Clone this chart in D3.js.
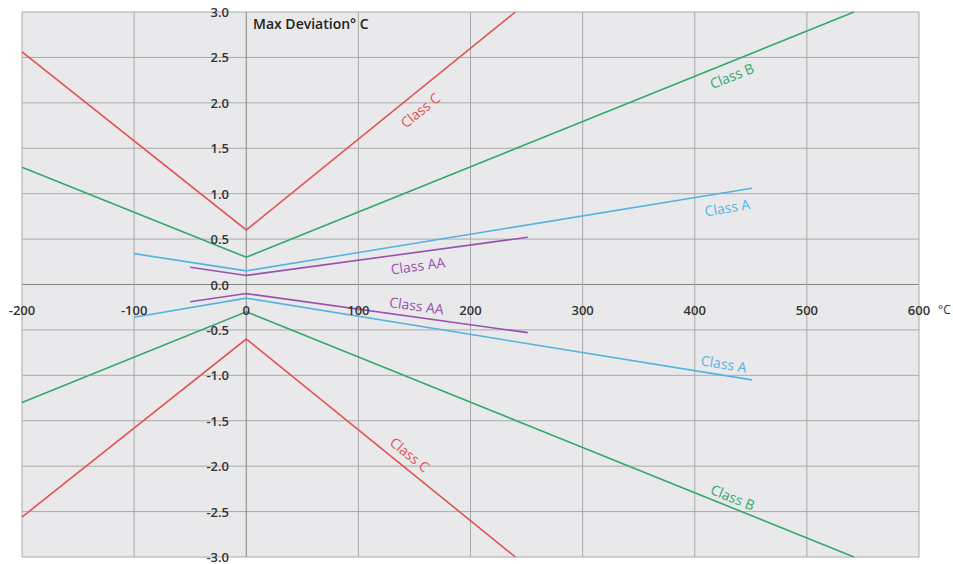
<!DOCTYPE html>
<html>
<head>
<meta charset="utf-8">
<script src="https://cdn.jsdelivr.net/npm/d3@7"></script>
<style>
  html, body { margin: 0; padding: 0; background: #fff; }
  svg { display: block; font-family: "Open Sans", "Noto Sans", sans-serif; }
</style>
</head>
<body>
<div id="chart"></div>
<script>
(function () {
  'use strict';

  // Axis ticks
  var xTicks = [-200, -100, 0, 100, 200, 300, 400, 500, 600];
  var yTicks = [-3, -2.5, -2, -1.5, -1, -0.5, 0, 0.5, 1, 1.5, 2, 2.5, 3];

  // Tolerance curves [temperature °C, deviation °C]
  var classCUpper  = [[-200, 2.56], [0, 0.6], [240, 3.0]];
  var classCLower  = [[-200, -2.56], [0, -0.6], [240, -3.0]];
  var classBUpper  = [[-200, 1.29], [0, 0.3], [542, 3.0]];
  var classBLower  = [[-200, -1.30], [0, -0.3], [542, -3.0]];
  var classAUpper  = [[-100, 0.34], [0, 0.15], [451, 1.06]];
  var classALower  = [[-100, -0.36], [0, -0.15], [451, -1.05]];
  var classAAUpper = [[-50, 0.19], [0, 0.10], [251, 0.52]];
  var classAALower = [[-50, -0.19], [0, -0.10], [251, -0.53]];

  // Label anchors in data units
  var labelNames = ['Class C', 'Class C', 'Class B', 'Class B', 'Class A', 'Class A', 'Class AA', 'Class AA'];
  var labelX = [155, 146, 433, 434, 429, 426, 153, 152];
  var labelY = [1.92, -1.87, 2.30, -2.34, 0.85, -0.87, 0.21, -0.23];

  var colors = { C: '#e05352', B: '#33a86c', A: '#55b3df', AA: '#9851ad' };

  var series = [
    { pts: classCUpper, color: colors.C },
    { pts: classCLower, color: colors.C },
    { pts: classBUpper, color: colors.B },
    { pts: classBLower, color: colors.B },
    { pts: classAUpper, color: colors.A },
    { pts: classALower, color: colors.A },
    { pts: classAAUpper, color: colors.AA },
    { pts: classAALower, color: colors.AA }
  ];

  var width = 953, height = 564;
  var x = d3.scaleLinear().domain([-200, 600]).range([22, 919]);
  var y = d3.scaleLinear().domain([-3, 3]).range([557, 12]);

  var svg = d3.select('#chart').append('svg').attr('width', width).attr('height', height);

  // Plot background
  svg.append('rect')
    .attr('x', x(-200)).attr('y', y(3))
    .attr('width', x(600) - x(-200)).attr('height', y(-3) - y(3))
    .attr('fill', '#e9e9eb');

  // Grid
  svg.append('g').selectAll('line').data(yTicks).enter().append('line')
    .attr('x1', x(-200)).attr('x2', x(600))
    .attr('y1', function (d) { return y(d); }).attr('y2', function (d) { return y(d); })
    .attr('stroke', function (d) { return d === 0 ? '#858585' : '#a9a9ab'; })
    .attr('stroke-width', 1);
  svg.append('g').selectAll('line').data(xTicks).enter().append('line')
    .attr('x1', function (d) { return x(d); }).attr('x2', function (d) { return x(d); })
    .attr('y1', y(3)).attr('y2', y(-3))
    .attr('stroke', function (d) { return d === 0 ? '#858585' : '#a9a9ab'; })
    .attr('stroke-width', 1);

  // Curves
  var line = d3.line().x(function (d) { return x(d[0]); }).y(function (d) { return y(d[1]); });
  svg.append('g').selectAll('path').data(series).enter().append('path')
    .attr('d', function (d) { return line(d.pts); })
    .attr('fill', 'none')
    .attr('stroke', function (d) { return d.color; })
    .attr('stroke-width', 1.6);

  // Curve labels, rotated along the last segment of their curve
  series.forEach(function (s, i) {
    var p = s.pts;
    var a = p[p.length - 2], b = p[p.length - 1];
    var ang = Math.atan2(y(b[1]) - y(a[1]), x(b[0]) - x(a[0])) * 180 / Math.PI;
    svg.append('text')
      .attr('transform', 'translate(' + x(labelX[i]) + ',' + y(labelY[i]) + ') rotate(' + ang + ')')
      .attr('text-anchor', 'middle').attr('dominant-baseline', 'central')
      .attr('fill', s.color).attr('font-size', 14)
      .text(labelNames[i]);
  });

  // Tick labels
  svg.append('g').selectAll('text').data(yTicks).enter().append('text')
    .attr('x', 229).attr('y', function (d) { return y(d); })
    .attr('text-anchor', 'end').attr('dominant-baseline', 'central')
    .attr('fill', '#333').attr('font-size', 13).attr('font-weight', 600)
    .text(function (d) { return d3.format('.1f')(d).replace('−', '-'); });
  svg.append('g').selectAll('text').data(xTicks).enter().append('text')
    .attr('x', function (d) { return x(d); }).attr('y', y(0) + 25)
    .attr('text-anchor', 'middle').attr('dominant-baseline', 'central')
    .attr('fill', '#333').attr('font-size', 13).attr('font-weight', 600)
    .text(function (d) { return String(d); });

  svg.append('text').attr('x', 938).attr('y', y(0) + 25)
    .attr('dominant-baseline', 'central')
    .attr('fill', '#333').attr('font-size', 12)
    .text('°C');

  svg.append('text').attr('x', 253).attr('y', 23)
    .attr('dominant-baseline', 'central')
    .attr('fill', '#222').attr('font-size', 14).attr('font-weight', 600)
    .text('Max Deviation° C');
})();
</script>
</body>
</html>
